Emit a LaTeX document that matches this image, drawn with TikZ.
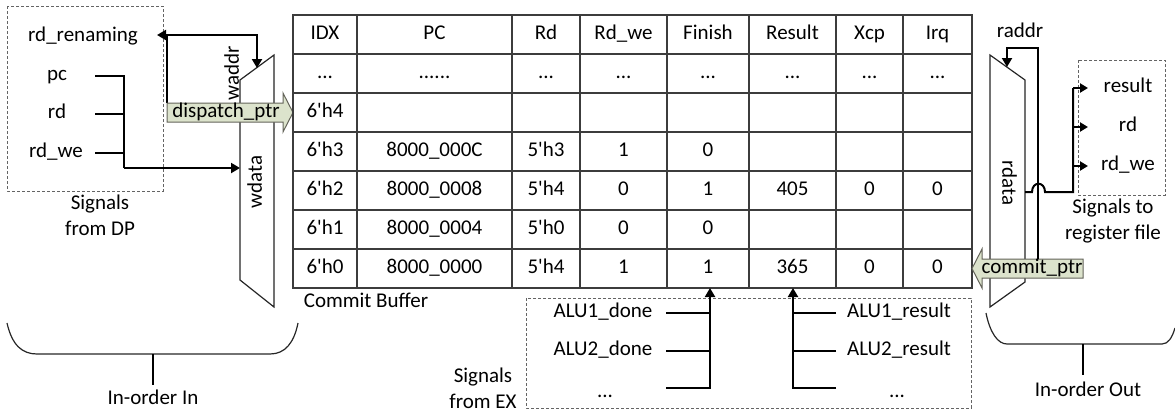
\documentclass[tikz,border=0pt]{standalone}
\usepackage{fontspec}
\newfontfamily\carl{Carlito}
\usetikzlibrary{arrows.meta}
\definecolor{ptrfill}{RGB}{220,227,204}
\definecolor{ptrdraw}{RGB}{100,100,90}
\definecolor{gridc}{RGB}{60,60,60}
\definecolor{dashc}{RGB}{100,100,100}
\newcommand{\cdts}{...}
\newcommand{\pcdts}{......}
\tikzset{
  txt/.style={font=\carl\fontsize{21}{26}\selectfont, inner sep=0pt, text height=13.5pt, text depth=4pt},
  ml/.style={font=\carl\fontsize{21}{26}\selectfont, inner sep=0pt, align=center},
  sig/.style={line width=2pt, draw=black},
  tip/.style={-{Triangle[length=9pt,width=10pt]}},
  stip/.style={-{Triangle[length=8pt,width=9pt]}},
  dbox/.style={draw=dashc, line width=1pt, dash pattern=on 3pt off 2pt},
  gridline/.style={draw=gridc, line width=1.3pt},
  muxshape/.style={draw=black!85, line width=1.2pt, fill=white},
  ptr/.style={fill=ptrfill, draw=ptrdraw, line width=1pt},
  brace/.style={draw=black!85, line width=1.2pt},
}
\begin{document}
\begin{tikzpicture}[x=1pt,y=-1pt]
\useasboundingbox (0,0) rectangle (1175,413);

% ---------------- left: signals from DP
\draw[dbox] (7,6) rectangle (163,191);
\node[txt] (rdr) at (83,37) {rd\_renaming};
\node[txt] (pc) at (57,76) {pc};
\node[txt] (rd) at (57,114) {rd};
\node[txt] (rdwe) at (56,153) {rd\_we};
\node[ml] (sdp) at (100,215) {Signals\\from DP};

\coordinate (pcS) at (95,76);
\coordinate (rdS) at (95,114);
\coordinate (weS) at (95,153);
\coordinate (jn) at (124,168);
\coordinate (wdin) at (240,168);
\draw[sig] (pcS) -- (124,76) -- (jn);
\draw[sig] (rdS) -- (124,114);
\draw[sig] (weS) -- (124,153);
\draw[sig,tip] (jn) -- (wdin);

% write mux
\draw[muxshape] (240,80) -- (274,55) -- (274,307) -- (240,280) -- cycle;
\node[txt, rotate=90] (waddr) at (234,73) {waddr};
\node[txt, rotate=90] (wdata) at (257,182) {wdata};

\coordinate (wa) at (257,68);
\coordinate (rdrtip) at (157,35);
\draw[sig,{Triangle[length=9pt,width=10pt]}-{Triangle[length=9pt,width=10pt]}] (rdrtip) -- (257,35) -- (wa);
\draw[sig] (167,35) -- (167,103);

% dispatch_ptr
\draw[ptr] (167,103) -- (283,103) -- (283,93) -- (293,112.5) -- (283,132) -- (283,122) -- (167,122) -- cycle;
\node[txt] (dptr) at (226,112.5) {dispatch\_ptr};

% ---------------- table
\draw[gridline] (293,15) rectangle (972,288);
\foreach \yy in {54,93,132,171,210,249} \draw[gridline] (293,\yy) -- (972,\yy);
\foreach \xx in {357,512,580,667,749,836,903} \draw[gridline] (\xx,15) -- (\xx,288);

\foreach \cx/\t [count=\i] in {325/IDX,434.5/PC,546/Rd,623.5/Rd\_we,708/Finish,792.5/Result,869.5/Xcp,937.5/Irq}
  \node[txt] (h-\i) at (\cx,34.5) {\t};
\foreach \cx/\t [count=\i] in {325/\cdts,434.5/\pcdts,546/\cdts,623.5/\cdts,708/\cdts,792.5/\cdts,869.5/\cdts,937.5/\cdts}
  \node[txt] (d-\i) at (\cx,73.5) {\t};
\node[txt] (r4-1) at (325,112.5) {6'h4};
\foreach \cx/\t [count=\i] in {325/6'h3,434.5/8000\_000C,546/5'h3,623.5/1,708/0}
  \node[txt] (r3-\i) at (\cx,151.5) {\t};
\foreach \cx/\t [count=\i] in {325/6'h2,434.5/8000\_0008,546/5'h4,623.5/0,708/1,792.5/405,869.5/0,937.5/0}
  \node[txt] (r2-\i) at (\cx,190.5) {\t};
\foreach \cx/\t [count=\i] in {325/6'h1,434.5/8000\_0004,546/5'h0,623.5/0,708/0}
  \node[txt] (r1-\i) at (\cx,229.5) {\t};
\foreach \cx/\t [count=\i] in {325/6'h0,434.5/8000\_0000,546/5'h4,623.5/1,708/1,792.5/365,869.5/0,937.5/0}
  \node[txt] (r0-\i) at (\cx,268.5) {\t};

\node[txt] (cb) at (366,303) {Commit Buffer};

% ---------------- bottom: signals from EX
\draw[dbox] (526,298) rectangle (971,408);
\node[ml] (sex) at (483,388) {Signals\\from EX};
\node[txt] (a1d) at (603,313) {ALU1\_done};
\node[txt] (a2d) at (603,351) {ALU2\_done};
\node[txt] (adx) at (605,393) {\cdts};
\node[txt] (a1r) at (899,313) {ALU1\_result};
\node[txt] (a2r) at (899,351) {ALU2\_result};
\node[txt] (arx) at (897,393) {\cdts};

\coordinate (fin) at (710,288);
\coordinate (res) at (793,288);
\draw[sig] (666,313) -- (710,313);
\draw[sig] (666,351) -- (710,351);
\draw[sig,tip] (666,388) -- (710,388) -- (fin);
\draw[sig] (836,313) -- (793,313);
\draw[sig] (836,351) -- (793,351);
\draw[sig,tip] (836,388) -- (793,388) -- (res);

% ---------------- right: read mux
\draw[muxshape] (990,55) -- (1025,80) -- (1025,282) -- (990,307) -- cycle;
\node[txt, rotate=-90] (rdata) at (1007,183) {rdata};
\node[txt] (raddr) at (1020,33) {raddr};
\coordinate (ra) at (1007,67);

% commit_ptr
\draw[ptr] (1083,259) -- (982,259) -- (982,249) -- (972,268.5) -- (982,288) -- (982,278) -- (1083,278) -- cycle;
\node[txt] (cptr) at (1032,268.5) {commit\_ptr};

\draw[sig,tip] (1038,259) -- (1038,48) -- (1007,48) -- (ra);

\draw[sig] (1025,192) -- (1032,192) .. controls (1032,181) and (1045,181) .. (1045,192) -- (1073,192) -- (1073,88);

\draw[dbox] (1078,60) rectangle (1165,195);
\node[txt] (ores) at (1128,88) {result};
\node[txt] (ord) at (1128,127) {rd};
\node[txt] (orwe) at (1128,166) {rd\_we};
\node[ml] (srf) at (1113,221) {Signals to\\register file};
\coordinate (t1) at (1088,88);
\coordinate (t2) at (1088,127);
\coordinate (t3) at (1088,166);
\draw[sig,stip] (1073,88) -- (t1);
\draw[sig,stip] (1073,127) -- (t2);
\draw[sig,stip] (1073,166) -- (t3);

% ---------------- brackets
\draw[brace] (7,323) .. controls (12,345) and (22,354) .. (37,354) -- (270,354) .. controls (285,354) and (294,343) .. (298,323);
\draw[line width=2pt] (153,354) -- (153,385);
\node[txt] (ioin) at (153,400) {In-order In};

\draw[brace] (986,313) .. controls (990,333) and (998,344) .. (1007,344) -- (1162,344) .. controls (1168,344) and (1172,338) .. (1175,328);
\draw[line width=2pt] (1083,344) -- (1083,375);
\node[txt] (ioout) at (1088,392) {In-order Out};
\end{tikzpicture}
\end{document}
